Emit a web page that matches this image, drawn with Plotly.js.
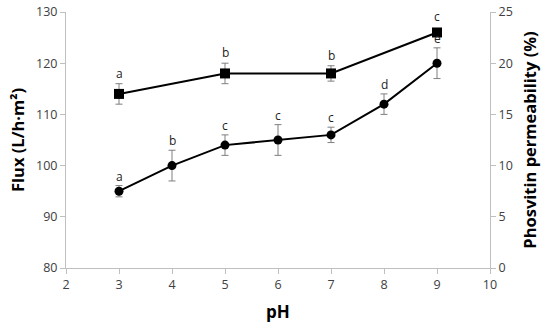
<!DOCTYPE html>
<html>
<head>
<meta charset="utf-8">
<script src="https://cdn.plot.ly/plotly-3.0.1.min.js"></script>
<style>html,body{margin:0;padding:0;background:#fff}#chart{width:550px;height:327px}</style>
</head>
<body>
<div id="chart"></div>
<script>
var fluxPH = [3, 5, 7, 9];
var fluxValues = [114, 118, 118, 126];
var fluxErrors = [2, 2, 1.5, 0];
var fluxLetters = ['a', 'b', 'b', 'c'];

var permPH = [3, 4, 5, 6, 7, 8, 9];
var permValues = [7.5, 10, 12, 12.5, 13, 16, 20];
var permErrors = [0.55, 1.5, 1, 1.5, 0.75, 1, 1.5];
var permLetters = ['a', 'b', 'c', 'c', 'c', 'd', 'e'];

var xTicks = [2, 3, 4, 5, 6, 7, 8, 9, 10];

var fnt = 'Open Sans, Liberation Sans, sans-serif';
var errStyle = {type: 'data', visible: true, color: '#7f7f7f', thickness: 1, width: 3.5};

var traces = [
  {x: fluxPH, y: fluxValues, type: 'scatter', mode: 'lines+markers', yaxis: 'y',
   line: {color: '#000', width: 2}, marker: {symbol: 'square', size: 10, color: '#000'},
   error_y: Object.assign({array: fluxErrors}, errStyle), showlegend: false},
  {x: permPH, y: permValues, type: 'scatter', mode: 'lines+markers', yaxis: 'y2',
   line: {color: '#000', width: 2}, marker: {symbol: 'circle', size: 9, color: '#000'},
   error_y: Object.assign({array: permErrors}, errStyle), showlegend: false}
];

var annotations = [];
fluxPH.forEach(function(x, i){
  annotations.push({x: x, y: fluxValues[i] + Math.max(fluxErrors[i], 1), xref: 'x', yref: 'y',
    text: fluxLetters[i], showarrow: false, yanchor: 'bottom', yshift: 0,
    font: {family: fnt, size: 12, color: '#222'}});
});
permPH.forEach(function(x, i){
  annotations.push({x: x, y: permValues[i] + permErrors[i], xref: 'x', yref: 'y2',
    text: permLetters[i], showarrow: false, yanchor: 'bottom', yshift: -1,
    font: {family: fnt, size: 12, color: '#222'}});
});

var axisCommon = {showgrid: false, zeroline: false, showline: true, linecolor: '#bfbfbf', linewidth: 1,
  ticks: 'outside', ticklen: 5, tickcolor: '#bfbfbf', tickfont: {family: fnt, size: 12.5, color: '#404040'}};

var layout = {
  width: 550, height: 327,
  margin: {l: 66, r: 60, t: 12, b: 59},
  paper_bgcolor: '#fff', plot_bgcolor: '#fff',
  xaxis: Object.assign({}, axisCommon, {range: [2, 10], tickvals: xTicks, ticktext: xTicks.map(String),
    title: {text: 'pH', font: {family: fnt, size: 17, color: '#000', weight: 'bold'}, standoff: 14}}),
  yaxis: Object.assign({}, axisCommon, {range: [80, 130], dtick: 10,
    title: {text: 'Flux (L/h·m²)', font: {family: fnt, size: 16.5, color: '#000', weight: 'bold'}, standoff: 7}}),
  yaxis2: Object.assign({}, axisCommon, {range: [0, 25], dtick: 5, overlaying: 'y', side: 'right',
    title: {text: 'Phosvitin permeability (%)', font: {family: fnt, size: 16.5, color: '#000', weight: 'bold'}, standoff: 12}}),
  annotations: annotations
};

Plotly.newPlot('chart', traces, layout, {displayModeBar: false, staticPlot: true});
</script>
</body>
</html>
